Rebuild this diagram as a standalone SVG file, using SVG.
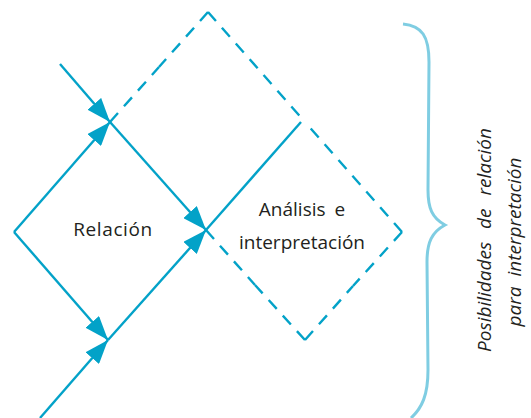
<svg xmlns="http://www.w3.org/2000/svg" width="531" height="418" viewBox="0 0 531 418">
<style>
.s{stroke:#03a2c8;stroke-width:2.4;fill:none}
.d{stroke:#03a2c8;stroke-width:2.4;fill:none;stroke-dasharray:12 9}
.t{font-family:"Open Sans","Noto Sans",sans-serif;font-size:19px;fill:#231f20}
.i{font-family:"Open Sans","Noto Sans",sans-serif;font-size:19px;font-style:italic;fill:#231f20}
</style>
<defs>
<marker id="ah" markerUnits="userSpaceOnUse" viewBox="0 0 24 18" refX="24" refY="9" markerWidth="24" markerHeight="18" orient="auto">
<path d="M0,0 L24,9 L0,18 z" fill="#03a2c8"/>
</marker>
</defs>
<rect width="531" height="418" fill="#ffffff"/>
<g id="connectors">
<line class="s" x1="60" y1="64" x2="110" y2="122" marker-end="url(#ah)"/>
<line class="s" x1="14" y1="232" x2="110" y2="122" marker-end="url(#ah)"/>
<line class="s" x1="14" y1="232" x2="108" y2="340" marker-end="url(#ah)"/>
<line class="s" x1="110" y1="122" x2="206" y2="230" marker-end="url(#ah)"/>
<line class="s" x1="40" y1="418" x2="108" y2="340" marker-end="url(#ah)"/>
<line class="s" x1="108" y1="340" x2="206" y2="230" marker-end="url(#ah)"/>
<line class="s" x1="206" y1="230" x2="301" y2="122"/>
</g>
<g id="analisis-box">
<line class="d" x1="208" y1="12" x2="159" y2="67"/>
<line class="d" x1="110" y1="122" x2="159" y2="67"/>
<line class="d" x1="208" y1="12" x2="305" y2="122"/>
<line class="d" x1="402" y1="232" x2="305" y2="122"/>
<line class="d" x1="402" y1="232" x2="353" y2="286"/>
<line class="d" x1="305" y1="340" x2="353" y2="286"/>
<line class="d" x1="305" y1="340" x2="255" y2="285"/>
<line class="d" x1="206" y1="230" x2="255" y2="285"/>
<text class="t" x="302" y="216" text-anchor="middle" word-spacing="4">Análisis e</text>
<text class="t" x="302" y="249" text-anchor="middle">interpretación</text>
</g>
<g id="relacion">
<text class="t" x="113" y="236" text-anchor="middle" letter-spacing="0.6">Relación</text>
</g>
<g id="brace">
<path d="M403,24 C422,26 429,36 429,62 L428,190 C428,208 432,218 445,225 C432,232 427,242 427,262 L428,370 C428,395 422,408 411,418" fill="none" stroke="#7fcde2" stroke-width="3"/>
</g>
<g id="label-posibilidades">
<text class="i" transform="translate(491,240) rotate(-90)" text-anchor="middle" word-spacing="8">Posibilidades de relación</text>
<text class="i" transform="translate(521,242) rotate(-90)" text-anchor="middle" word-spacing="5">para interpretación</text>
</g>
</svg>
